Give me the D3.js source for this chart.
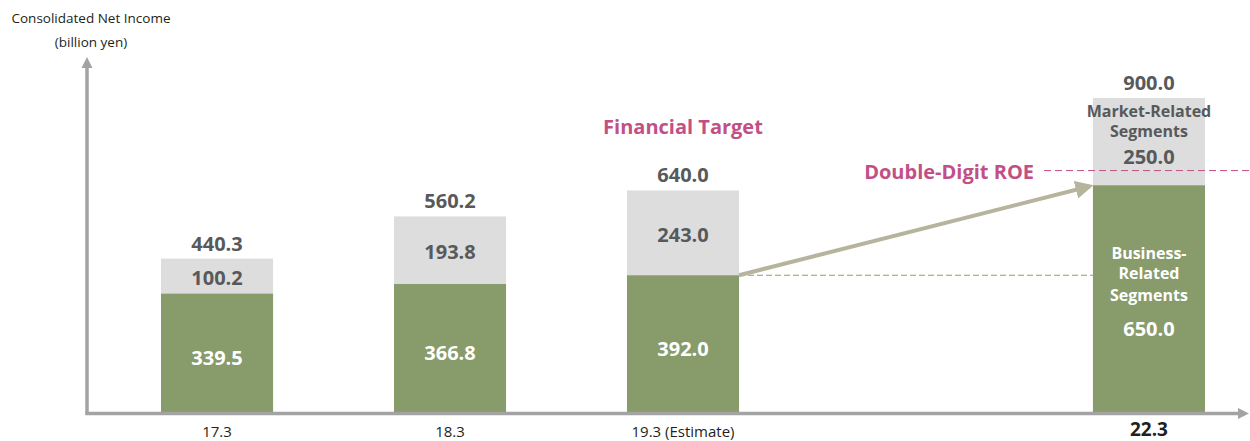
<!DOCTYPE html>
<head>
  <meta charset="utf-8">
  <script src="https://d3js.org/d3.v7.min.js"></script>
  <style>
    body {
      margin: 0;
      background: #fff;
      font-family: "Open Sans", sans-serif;
    }
    text.val {
      font-weight: 700;
      font-size: 20px;
      text-anchor: middle;
    }
    text.dark { fill: #58595b; }
    text.light { fill: #fff; }
    text.seg {
      font-weight: 700;
      font-size: 16px;
      text-anchor: middle;
    }
  </style>
</head>

<body>
  <div id="chart"></div>

  <script>
    // fiscal year ends (March)
    var periods = ["17.3", "18.3", "19.3", "22.3"];
    var periodLabels = ["17.3", "18.3", "19.3 (Estimate)", "22.3"];
    // business-related segments (green) and market-related segments (gray)
    var business = [339.5, 366.8, 392.0, 650.0];
    var market = [100.2, 193.8, 243.0, 250.0];
    var totals = ["440.3", "560.2", "640.0", "900.0"];
    var roeLevel = 692;

    var width = 1250, height = 441;
    var green = "#879b6b", grey = "#dcdddc", pink = "#c24f86", axisGrey = "#a3a3a3";

    var svg = d3.select("#chart").append("svg")
      .attr("width", width)
      .attr("height", height)
      .style("display", "block");

    var x = d3.scaleBand()
      .domain(periods.slice(0, 3).concat(["gap"], periods.slice(3)))
      .range([161, 1205])
      .paddingInner(0.519);
    var y = d3.scaleLinear()
      .domain([0, 900])
      .range([412, 98]);

    var data = periods.map(function(p, i) {
      return {p: p, label: periodLabels[i], b: business[i], m: market[i], t: totals[i], last: i == 3};
    });

    // bars
    var bars = svg.append("g");
    bars.selectAll("rect.m")
        .data(data)
      .enter().append("rect")
        .attr("x", function(d) { return x(d.p); })
        .attr("width", x.bandwidth())
        .attr("y", function(d) { return y(d.b + d.m); })
        .attr("height", function(d) { return y(d.b) - y(d.b + d.m); })
        .attr("fill", grey);
    bars.selectAll("rect.b")
        .data(data)
      .enter().append("rect")
        .attr("x", function(d) { return x(d.p); })
        .attr("width", x.bandwidth())
        .attr("y", function(d) { return y(d.b); })
        .attr("height", function(d) { return y(0) - y(d.b); })
        .attr("fill", green);

    // axes (arrows)
    var defs = svg.append("defs");
    defs.append("marker")
        .attr("id", "axhead")
        .attr("viewBox", "0 0 10 10")
        .attr("refX", 2).attr("refY", 5)
        .attr("markerWidth", 3.2).attr("markerHeight", 3.2)
        .attr("orient", "auto")
      .append("path")
        .attr("d", "M0,0L10,5L0,10z")
        .attr("fill", axisGrey);
    defs.append("marker")
        .attr("id", "trend")
        .attr("viewBox", "0 0 10 10")
        .attr("refX", 8).attr("refY", 5)
        .attr("markerWidth", 4.5).attr("markerHeight", 4.5)
        .attr("orient", "auto")
      .append("path")
        .attr("d", "M0,0L10,5L0,10z")
        .attr("fill", "#b6b49d");

    svg.append("path")
      .attr("d", "M87," + (y(0) + 1.5) + "V66")
      .attr("stroke", axisGrey)
      .attr("stroke-width", 3.5)
      .attr("fill", "none")
      .attr("marker-end", "url(#axhead)");
    svg.append("path")
      .attr("d", "M85.25," + (y(0) + 1.5) + "H1240")
      .attr("stroke", axisGrey)
      .attr("stroke-width", 3.5)
      .attr("fill", "none")
      .attr("marker-end", "url(#axhead)");

    // axis title
    svg.append("text")
      .attr("x", 91).attr("y", 23)
      .attr("text-anchor", "middle")
      .style("font-size", "13.5px")
      .attr("fill", "#231f20")
      .text("Consolidated Net Income");
    svg.append("text")
      .attr("x", 91).attr("y", 47)
      .attr("text-anchor", "middle")
      .style("font-size", "13.5px")
      .attr("fill", "#231f20")
      .text("(billion yen)");

    // category labels
    svg.selectAll("text.cat")
        .data(data)
      .enter().append("text")
        .attr("class", "cat")
        .attr("x", function(d) { return x(d.p) + x.bandwidth() / 2; })
        .attr("y", function(d) { return d.last ? 436 : 437; })
        .attr("text-anchor", "middle")
        .attr("fill", "#231f20")
        .style("font-size", function(d) { return d.last ? "19px" : "15px"; })
        .style("font-weight", function(d) { return d.last ? 700 : 400; })
        .text(function(d) { return d.label; });

    // totals above bars
    svg.selectAll("text.tot")
        .data(data)
      .enter().append("text")
        .attr("class", "val dark")
        .attr("x", function(d) { return x(d.p) + x.bandwidth() / 2; })
        .attr("y", function(d) { return y(d.b + d.m) - 8; })
        .text(function(d) { return d.t; });

    // segment values
    svg.selectAll("text.mv")
        .data(data.filter(function(d) { return !d.last; }))
      .enter().append("text")
        .attr("class", "val dark")
        .attr("x", function(d) { return x(d.p) + x.bandwidth() / 2; })
        .attr("y", function(d) { return (y(d.b) + y(d.b + d.m)) / 2 + 9; })
        .text(function(d) { return d.m.toFixed(1); });
    svg.selectAll("text.bv")
        .data(data.filter(function(d) { return !d.last; }))
      .enter().append("text")
        .attr("class", "val light")
        .attr("x", function(d) { return x(d.p) + x.bandwidth() / 2; })
        .attr("y", function(d) { return (y(0) + y(d.b)) / 2 + 12; })
        .text(function(d) { return d.b.toFixed(1); });

    // last bar: segment names
    var last = data[3], cx = x(last.p) + x.bandwidth() / 2;
    var mTop = y(last.b + last.m);
    svg.append("text").attr("class", "seg dark").attr("x", cx).attr("y", mTop + 19).text("Market-Related");
    svg.append("text").attr("class", "seg dark").attr("x", cx).attr("y", mTop + 39).text("Segments");
    svg.append("text").attr("class", "val dark").attr("x", cx).attr("y", mTop + 66).text(last.m.toFixed(1));
    var bTop = y(last.b);
    svg.append("text").attr("class", "seg light").attr("x", cx).attr("y", bTop + 74).text("Business-");
    svg.append("text").attr("class", "seg light").attr("x", cx).attr("y", bTop + 94).text("Related");
    svg.append("text").attr("class", "seg light").attr("x", cx).attr("y", bTop + 116).text("Segments");
    svg.append("text").attr("class", "val light").attr("x", cx).attr("y", bTop + 151).text(last.b.toFixed(1));

    // financial target annotations
    var est = data[2];
    var x3 = x(est.p) + x.bandwidth();
    svg.append("text")
      .attr("x", x(est.p) + x.bandwidth() / 2).attr("y", 134)
      .attr("text-anchor", "middle")
      .attr("fill", pink)
      .style("font-size", "20px").style("font-weight", 700)
      .text("Financial Target");

    svg.append("line")
      .attr("x1", x3).attr("x2", x(last.p))
      .attr("y1", y(est.b)).attr("y2", y(est.b))
      .attr("stroke", "#8ba06c").attr("stroke-width", 1)
      .attr("stroke-dasharray", "6,3");
    svg.append("line")
      .attr("x1", x3).attr("y1", y(est.b))
      .attr("x2", x(last.p) - 3).attr("y2", y(last.b) + 1)
      .attr("stroke", "#b6b49d").attr("stroke-width", 4)
      .attr("marker-end", "url(#trend)");

    svg.append("text")
      .attr("x", 1034).attr("y", y(roeLevel) + 8)
      .attr("text-anchor", "end")
      .attr("fill", pink)
      .style("font-size", "20px").style("font-weight", 700)
      .text("Double-Digit ROE");
    svg.append("line")
      .attr("x1", 1044).attr("x2", width)
      .attr("y1", y(roeLevel)).attr("y2", y(roeLevel))
      .attr("stroke", pink).attr("stroke-width", 1)
      .attr("stroke-dasharray", "7,4");
  </script>
</body>
